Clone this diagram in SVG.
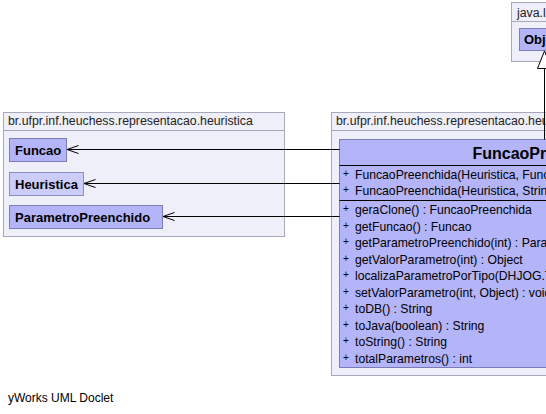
<svg xmlns="http://www.w3.org/2000/svg" width="546" height="414" viewBox="0 0 546 414">
  <style>
    .pkg { fill: #efeffa; stroke: #a8a8bc; stroke-width: 1; }
    .pkgline { stroke: #a8a8bc; stroke-width: 1; }
    .pkgname { font-family: "Liberation Sans", Arial, sans-serif; font-size: 12.3px; fill: #222; }
    .cls { fill: #b4b4f8; stroke: #7c7cb8; stroke-width: 1; }
    .iface { fill: #ccccf8; stroke: #8c8cc0; stroke-width: 1; }
    .cname { font-family: "Liberation Sans", Arial, sans-serif; font-size: 13px; font-weight: bold; fill: #000; }
    .big { font-size: 16px; }
    .member { font-family: "Liberation Sans", Arial, sans-serif; font-size: 12.2px; fill: #000; }
    .vis { font-size: 10px; }
    .sep { stroke: #000; stroke-width: 1; }
    .edge { stroke: #000; stroke-width: 1; fill: none; }
    .footer { font-family: "Liberation Sans", Arial, sans-serif; font-size: 12px; fill: #000; }
  </style>
  <defs>
    <!-- open arrowhead for dependency lines; tip sits on the line end -->
    <marker id="open" viewBox="0 0 12 10" refX="11.5" refY="5" markerWidth="12" markerHeight="10" markerUnits="userSpaceOnUse" orient="auto">
      <path d="M0,1 L11.5,5 L0,9" fill="none" stroke="#000" stroke-width="1"/>
    </marker>
  </defs>
  <rect width="546" height="414" fill="#fff"/>

  <!-- package java.lang -->
  <g id="pkg-java-lang">
    <rect class="pkg" x="511.5" y="2.5" width="60" height="59"/>
    <line class="pkgline" x1="511.5" y1="21.5" x2="546" y2="21.5"/>
    <text class="pkgname" x="517" y="17">java.lang</text>
  </g>
  <g id="Object">
    <rect class="cls" x="519.5" y="28.5" width="50" height="22"/>
    <text class="cname" x="524" y="44">Object</text>
  </g>

  <!-- package heuristica -->
  <g id="pkg-heuristica">
    <rect class="pkg" x="3.5" y="112.5" width="281" height="124"/>
    <line class="pkgline" x1="3.5" y1="130.5" x2="284.5" y2="130.5"/>
    <text class="pkgname" x="8" y="125">br.ufpr.inf.heuchess.representacao.heuristica</text>
  </g>
  <g id="Funcao">
    <rect class="cls" x="9.5" y="138.5" width="57" height="23"/>
    <text class="cname" x="15" y="155">Funcao</text>
  </g>
  <g id="Heuristica">
    <rect class="iface" x="9.5" y="172.5" width="74" height="23"/>
    <text class="cname" x="15" y="189">Heuristica</text>
  </g>
  <g id="ParametroPreenchido">
    <rect class="cls" x="9.5" y="205.5" width="153" height="23"/>
    <text class="cname" x="15" y="222">ParametroPreenchido</text>
  </g>

  <!-- package representacao.heuristica (implementation) -->
  <g id="pkg-representacao">
    <rect class="pkg" x="331.5" y="112.5" width="420" height="263"/>
    <line class="pkgline" x1="331.5" y1="130.5" x2="546" y2="130.5"/>
    <text class="pkgname" x="336" y="125">br.ufpr.inf.heuchess.representacao.heuristica</text>
  </g>
  <g id="FuncaoPreenchida">
    <rect class="cls" x="339.5" y="139.5" width="406" height="228"/>
    <text class="cname big" x="544" y="159" text-anchor="middle">FuncaoPreenchida</text>
    <line class="sep" x1="339.5" y1="165.5" x2="745.5" y2="165.5"/>
    <g class="member">
      <text x="343" y="179"><tspan class="vis" dy="-2">+</tspan><tspan x="355" dy="2">FuncaoPreenchida(Heuristica, Funcao)</tspan></text>
      <text x="343" y="195"><tspan class="vis" dy="-2">+</tspan><tspan x="355" dy="2">FuncaoPreenchida(Heuristica, String)</tspan></text>
    </g>
    <line class="sep" x1="339.5" y1="200.5" x2="745.5" y2="200.5"/>
    <g class="member">
      <text x="343" y="214"><tspan class="vis" dy="-2">+</tspan><tspan x="355" dy="2">geraClone() : FuncaoPreenchida</tspan></text>
      <text x="343" y="231"><tspan class="vis" dy="-2">+</tspan><tspan x="355" dy="2">getFuncao() : Funcao</tspan></text>
      <text x="343" y="247"><tspan class="vis" dy="-2">+</tspan><tspan x="355" dy="2">getParametroPreenchido(int) : ParametroPreenchido</tspan></text>
      <text x="343" y="264"><tspan class="vis" dy="-2">+</tspan><tspan x="355" dy="2">getValorParametro(int) : Object</tspan></text>
      <text x="343" y="280"><tspan class="vis" dy="-2">+</tspan><tspan x="355" dy="2">localizaParametroPorTipo(DHJOG.TipoParametro) : ParametroPreenchido</tspan></text>
      <text x="343" y="297"><tspan class="vis" dy="-2">+</tspan><tspan x="355" dy="2">setValorParametro(int, Object) : void</tspan></text>
      <text x="343" y="313"><tspan class="vis" dy="-2">+</tspan><tspan x="355" dy="2">toDB() : String</tspan></text>
      <text x="343" y="330"><tspan class="vis" dy="-2">+</tspan><tspan x="355" dy="2">toJava(boolean) : String</tspan></text>
      <text x="343" y="346"><tspan class="vis" dy="-2">+</tspan><tspan x="355" dy="2">toString() : String</tspan></text>
      <text x="343" y="363"><tspan class="vis" dy="-2">+</tspan><tspan x="355" dy="2">totalParametros() : int</tspan></text>
    </g>
  </g>

  <!-- connectors -->
  <g id="connectors">
    <line class="edge" x1="339.5" y1="149.5" x2="67" y2="149.5" marker-end="url(#open)"/>
    <line class="edge" x1="339.5" y1="183.5" x2="84" y2="183.5" marker-end="url(#open)"/>
    <line class="edge" x1="339.5" y1="216.5" x2="163" y2="216.5" marker-end="url(#open)"/>
    <!-- generalization to Object -->
    <line class="edge" x1="544.5" y1="139.5" x2="544.5" y2="68.5"/>
    <path d="M544.5,51 L537.5,68.5 L551.5,68.5 Z" fill="#fff" stroke="#000" stroke-width="1"/>
  </g>

  <text class="footer" x="8" y="402">yWorks UML Doclet</text>
</svg>
